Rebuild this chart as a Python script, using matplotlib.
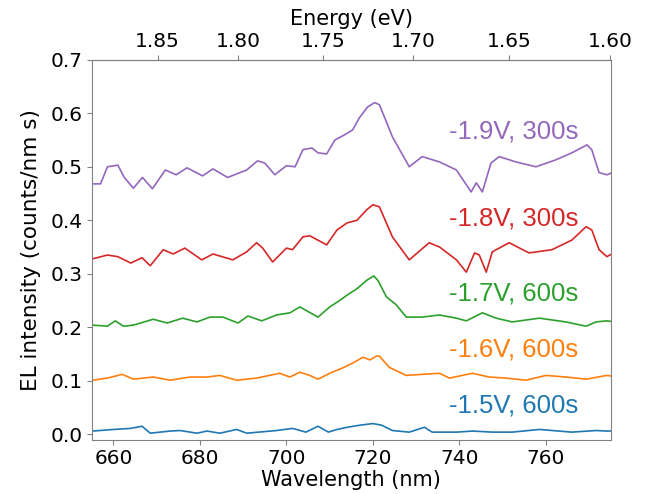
import matplotlib
matplotlib.use("Agg")
import matplotlib.pyplot as plt

# wavelength (nm) / intensity pairs
wl_19 = [655.2, 657.0, 658.6, 661.0, 662.5, 664.6, 666.7, 669.0, 672.0, 674.5, 677.0, 680.6, 683.0,
         686.4, 690.8, 693.3, 695.0, 697.3, 700.0, 702.0, 703.8, 705.9, 707.3, 709.3, 711.2, 713.5,
         715.3, 716.9, 718.8, 720.4, 721.5, 724.5, 728.4, 731.4, 735.4, 739.3, 742.7, 743.9, 745.3,
         747.3, 749.2, 753.1, 757.7, 762.3, 766.0, 769.5, 770.6, 772.3, 774.1, 775.0]
int_19 = [0.468, 0.468, 0.500, 0.503, 0.480, 0.460, 0.480, 0.459, 0.494, 0.485, 0.498, 0.483, 0.496,
          0.480, 0.494, 0.511, 0.507, 0.485, 0.502, 0.500, 0.532, 0.535, 0.526, 0.524, 0.550, 0.560,
          0.569, 0.592, 0.612, 0.620, 0.616, 0.556, 0.500, 0.519, 0.509, 0.494, 0.453, 0.470, 0.453,
          0.507, 0.519, 0.509, 0.500, 0.513, 0.526, 0.541, 0.532, 0.489, 0.485, 0.488]

wl_18 = [655.2, 658.6, 661.0, 664.0, 666.6, 668.5, 671.5, 673.8, 676.5, 680.4, 683.0, 687.6, 690.8,
         693.1, 694.5, 696.8, 700.0, 701.4, 703.8, 705.4, 709.3, 711.7, 714.0, 716.3, 718.6, 720.0,
         721.5, 724.5, 728.4, 733.0, 735.4, 739.3, 741.6, 743.5, 744.6, 746.2, 747.6, 751.5, 756.1,
         761.4, 766.0, 769.3, 770.6, 772.3, 774.1, 775.0]
int_18 = [0.328, 0.335, 0.332, 0.320, 0.330, 0.315, 0.345, 0.337, 0.348, 0.326, 0.337, 0.326, 0.341,
          0.358, 0.348, 0.322, 0.348, 0.345, 0.369, 0.371, 0.354, 0.382, 0.395, 0.400, 0.420, 0.429,
          0.425, 0.369, 0.326, 0.358, 0.350, 0.326, 0.303, 0.339, 0.335, 0.303, 0.341, 0.358, 0.339,
          0.345, 0.363, 0.388, 0.382, 0.345, 0.332, 0.336]

wl_17 = [655.2, 658.6, 660.4, 662.3, 664.6, 669.2, 672.4, 676.0, 679.3, 682.3, 685.3, 688.8, 691.1,
         694.3, 697.7, 700.8, 703.1, 707.3, 710.0, 712.3, 714.0, 716.3, 718.6, 720.2, 721.2, 723.1,
         725.4, 727.7, 731.4, 735.4, 739.3, 741.6, 745.3, 748.5, 752.2, 758.5, 764.6, 769.3, 771.6,
         774.1, 775.0]
int_17 = [0.204, 0.202, 0.212, 0.202, 0.204, 0.215, 0.208, 0.217, 0.210, 0.219, 0.219, 0.208, 0.221,
          0.212, 0.223, 0.227, 0.238, 0.219, 0.238, 0.250, 0.260, 0.272, 0.288, 0.296, 0.287, 0.257,
          0.242, 0.219, 0.219, 0.223, 0.217, 0.212, 0.227, 0.217, 0.210, 0.217, 0.210, 0.202, 0.210,
          0.212, 0.211]

wl_16 = [655.2, 658.6, 662.0, 664.6, 669.2, 673.1, 677.7, 681.6, 684.6, 688.5, 693.1, 698.4, 700.8,
         703.1, 705.4, 707.3, 710.0, 713.0, 715.3, 717.7, 719.3, 720.8, 721.5, 723.8, 727.7, 731.4,
         735.4, 737.7, 743.0, 746.9, 750.8, 755.4, 760.0, 764.6, 769.3, 774.1, 775.0]
int_16 = [0.101, 0.105, 0.112, 0.103, 0.107, 0.101, 0.107, 0.107, 0.110, 0.101, 0.105, 0.114, 0.107,
          0.116, 0.110, 0.103, 0.114, 0.124, 0.133, 0.144, 0.139, 0.146, 0.146, 0.125, 0.110, 0.112,
          0.114, 0.105, 0.114, 0.107, 0.105, 0.101, 0.110, 0.107, 0.103, 0.110, 0.109]

wl_15 = [655.2, 660.0, 664.0, 666.6, 668.5, 673.1, 675.4, 679.3, 681.6, 684.6, 688.5, 690.8, 697.7,
         701.4, 704.5, 707.3, 709.7, 711.7, 714.0, 717.0, 720.0, 722.0, 724.5, 728.4, 731.9, 733.7,
         739.3, 743.0, 747.6, 752.2, 758.5, 766.0, 771.6, 774.1, 775.0]
int_15 = [0.006, 0.009, 0.011, 0.015, 0.002, 0.006, 0.007, 0.002, 0.006, 0.002, 0.009, 0.002, 0.007,
          0.011, 0.004, 0.015, 0.004, 0.009, 0.013, 0.017, 0.020, 0.017, 0.007, 0.004, 0.013, 0.004,
          0.004, 0.006, 0.004, 0.004, 0.009, 0.004, 0.007, 0.006, 0.006]

labels = ["-1.9V, 300s", "-1.8V, 300s", "-1.7V, 600s", "-1.6V, 600s", "-1.5V, 600s"]
label_y = [0.566, 0.404, 0.264, 0.159, 0.054]
colors = ["#9467bd", "#d62728", "#2ca02c", "#ff7f0e", "#1f77b4"]
energy_ticks = [1.85, 1.80, 1.75, 1.70, 1.65, 1.60]

fig = plt.figure(figsize=(6.47, 4.94), dpi=100)
ax = fig.add_axes([0.142, 0.109, 0.802, 0.770])

series = [(wl_19, int_19), (wl_18, int_18), (wl_17, int_17), (wl_16, int_16), (wl_15, int_15)]
for (x, y), c in zip(series, colors):
    ax.plot(x, y, color=c, lw=1.2)

for lab, ly, c in zip(labels, label_y, colors):
    ax.text(767.5, ly, lab, color=c, fontsize=18.5, ha="right", va="center",
            family=["Liberation Sans", "DejaVu Sans"])

ax.set_xlim(655, 775)
ax.set_ylim(-0.011, 0.7)
ax.set_xticks([660, 680, 700, 720, 740, 760])
ax.set_yticks([0.0, 0.1, 0.2, 0.3, 0.4, 0.5, 0.6, 0.7])
ax.set_xlabel("Wavelength (nm)", fontsize=15, labelpad=1)
ax.set_ylabel("EL intensity (counts/nm s)", fontsize=15.5, labelpad=7)
ax.tick_params(labelsize=14.5, color="#808080", pad=3)
for s in ax.spines.values():
    s.set_color("#808080")

top = ax.secondary_xaxis("top", functions=(lambda w: 1239.84 / w, lambda e: 1239.84 / e))
top.set_xticks(energy_ticks)
top.set_xticklabels([f"{e:.2f}" for e in energy_ticks])
top.set_xlabel("Energy (eV)", fontsize=15, labelpad=5)
top.tick_params(labelsize=14.5, color="#808080", pad=3)
top.spines["top"].set_color("#808080")

fig.savefig("out.png", dpi=100)
